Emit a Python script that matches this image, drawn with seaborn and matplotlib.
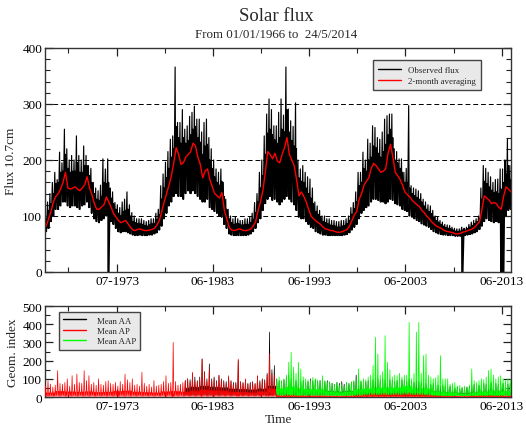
import numpy as np
import pandas as pd
import matplotlib
matplotlib.use("Agg")
import matplotlib.pyplot as plt
import matplotlib.dates as mdates
from matplotlib.lines import Line2D
from matplotlib.ticker import MultipleLocator, FixedLocator
import seaborn as sns

# ---------------------------------------------------------------------------
# Quarterly readings of the 10.7 cm solar flux, 1966 Q1 .. 2014 Q2
# ---------------------------------------------------------------------------
flux_mean = [
    82, 95, 108, 125,   135, 140, 148, 160,   178, 150, 148, 150,   152, 148, 145, 150,
    156, 170, 150, 138,   122, 112, 112, 116,   120, 134, 125, 115,   104, 98, 92, 88,
    90, 92, 86, 80,   75, 74, 76, 77,   75, 74, 74, 75,   76, 78, 84, 92,
    108, 125, 140, 155,   172, 195, 222, 210,   192, 195, 205, 210,   215, 230, 225, 205,
    192, 168, 180, 184,   165, 152, 140, 136,   132, 142, 110, 95,   80, 75, 74, 75,
    77, 76, 74, 74,   75, 77, 82, 90,   110, 125, 145, 178,   215, 210, 202, 212,
    198, 195, 210, 222,   240, 210, 200, 190,   165, 136, 143, 135,   125, 112, 100, 95,
    91, 88, 85, 80,   77, 76, 74, 74,   72, 71, 71, 72,   74, 76, 82, 92,
    102, 108, 130, 140,   155, 162, 168, 185,   194, 190, 184, 178,   180, 184, 212, 228,
    205, 178, 172, 165,   155, 143, 138, 134,   128, 124, 120, 117,   110, 106, 100, 96,
    90, 86, 82, 80,   78, 75, 73, 72,   71, 70, 68, 68,   69, 71, 72, 74,
    75, 77, 80, 85,   90, 112, 136, 132,   128, 122, 124, 122,   115, 112, 135, 152,
    148, 143,
]
# daily extremes and the top of the dense part of the daily band, per quarter
flux_high = [
    105, 125, 140, 160,   178, 165, 214, 195,   255, 220, 200, 208,   200, 243, 208, 200,
    225, 208, 190, 185,   160, 150, 145, 155,   202, 184, 202, 150,   143, 124, 120, 115,
    125, 130, 143, 120,   106, 100, 95, 95,   95, 92, 90, 92,   95, 95, 105, 112,
    154, 175, 196, 215,   237, 243, 366, 267,   267, 290, 255, 261,   278, 285, 296, 273,
    273, 250, 267, 273,   240, 220, 200, 184,   178, 184, 160, 130,   112, 100, 95, 98,
    95, 92, 92, 95,   95, 98, 105, 124,   140, 178, 200, 243,   282, 309, 290, 261,
    261, 285, 309, 280,   366, 291, 270, 260,   302, 200, 184, 190,   178, 170, 166, 150,
    125, 118, 110, 100,   100, 95, 95, 92,   92, 90, 90, 92,   92, 95, 100, 115,
    124, 143, 178, 178,   214, 200, 237, 230,   261, 258, 240, 237,   250, 273, 279, 282,
    282, 220, 215, 202,   202, 178, 185, 297,   154, 150, 148, 145,   140, 130, 125, 120,
    118, 110, 100, 98,   92, 89, 85, 84,   83, 80, 78, 77,   77, 80, 78, 80,
    85, 89, 92, 95,   100, 150, 190, 185,   178, 170, 160, 165,   166, 184, 184, 200,
    237, 190,
]
flux_band = [
    95, 110, 122, 140,   158, 160, 178, 180,   210, 185, 178, 180,   180, 195, 178, 178,
    190, 190, 172, 160,   140, 130, 128, 135,   160, 158, 160, 132,   122, 112, 105, 100,
    108, 110, 112, 100,   90, 88, 86, 86,   85, 83, 82, 84,   86, 86, 94, 102,
    130, 150, 168, 185,   205, 220, 260, 240,   230, 240, 230, 235,   245, 255, 260, 240,
    232, 210, 225, 228,   200, 185, 170, 160,   155, 162, 135, 112,   95, 88, 85, 86,
    86, 84, 84, 85,   85, 88, 94, 106,   125, 150, 172, 210,   248, 255, 245, 236,
    230, 240, 255, 250,   290, 250, 235, 225,   220, 168, 162, 160,   150, 140, 132, 122,
    108, 103, 98, 90,   88, 86, 84, 83,   82, 80, 80, 82,   83, 86, 92, 103,
    113, 125, 154, 160,   185, 180, 200, 205,   225, 222, 212, 205,   215, 228, 245, 255,
    240, 200, 195, 185,   178, 160, 160, 150,   140, 136, 133, 130,   125, 118, 112, 108,
    104, 98, 92, 89,   85, 82, 79, 78,   77, 75, 73, 72,   73, 75, 75, 77,
    80, 83, 86, 90,   95, 130, 162, 158,   152, 146, 142, 143,   140, 148, 160, 175,
    190, 165,
]
flux_low = [
    72, 78, 90, 100,   112, 112, 118, 125,   125, 118, 115, 118,   118, 115, 112, 118,
    120, 125, 115, 105,   95, 90, 88, 92,   95, 100, 0, 90,   85, 78, 72, 70,
    72, 72, 70, 68,   66, 65, 65, 66,   65, 65, 65, 66,   66, 68, 70, 75,
    82, 95, 105, 118,   125, 135, 140, 135,   135, 130, 140, 145,   140, 145, 140, 135,
    130, 125, 125, 130,   115, 112, 108, 105,   100, 98, 85, 78,   68, 66, 65, 65,
    65, 65, 65, 65,   66, 68, 72, 78,   88, 95, 110, 122,   130, 135, 128, 130,
    125, 120, 125, 130,   135, 130, 125, 120,   110, 98, 95, 95,   90, 85, 80, 78,
    72, 70, 68, 66,   66, 65, 65, 65,   65, 65, 65, 65,   66, 67, 70, 75,
    80, 85, 95, 105,   110, 115, 118, 125,   130, 130, 128, 125,   125, 122, 125, 130,
    128, 122, 120, 118,   112, 110, 108, 100,   98, 95, 92, 90,   86, 84, 82, 80,
    76, 72, 70, 68,   67, 66, 66, 65,   65, 65, 64, 64,   64, 0, 65, 66,
    67, 68, 70, 72,   76, 82, 90, 95,   92, 90, 88, 90,   88, 0, 0, 100,
    110, 112,
]

# ---------------------------------------------------------------------------
# Geomagnetic indices: quarterly peaks, yearly typical and quiet levels
# ---------------------------------------------------------------------------
ap_peak = [   # 1966 Q1 .. 2014 Q2
    60, 90, 71, 55,   65, 145, 75, 70,   80, 100, 60, 117,   70, 126, 80, 75,
    145, 90, 117, 70,   80, 65, 100, 70,   65, 85, 90, 75,   70, 80, 60, 85,
    70, 126, 95, 80,   100, 65, 70, 60,   136, 75, 60, 70,   55, 90, 60, 65,
    70, 85, 117, 75,   80, 300, 85, 65,   70, 80, 90, 100,   85, 136, 90, 80,
    95, 209, 130, 85,   150, 90, 100, 80,   117, 95, 80, 75,   117, 85, 70, 75,
    209, 80, 75, 100,   70, 75, 80, 70,   117, 80, 95, 85,   120, 238, 130, 120,
    12, 10, 8, 10,   14, 12, 10, 12,   10, 8, 8, 10,   8, 10, 8, 8,
    8, 8, 10, 8,   8, 6, 8, 6,   6, 6, 5, 6,   6, 8, 6, 8,
    10, 12, 14, 10,   14, 16, 18, 20,   18, 22, 20, 18,   20, 22, 18, 20,
    18, 20, 22, 18,   20, 22, 18, 25,   18, 20, 22, 20,   18, 20, 16, 14,
    12, 10, 10, 8,   8, 6, 6, 6,   6, 5, 6, 5,   5, 5, 5, 6,
    6, 8, 8, 6,   8, 8, 10, 8,   10, 10, 8, 8,   8, 10, 8, 8,
    8, 8,
]
ap_base = [   # 1966 .. 2014
    24, 32, 30, 28, 30, 26, 28, 32, 34, 28, 26, 24, 30, 32, 28, 34, 40, 36, 34, 28,
    26, 24, 30, 45,
    6, 6, 5, 5, 5, 4, 4, 4, 6, 8, 10, 10, 10, 12, 10, 8, 6, 4, 4, 3, 4, 4, 5, 4, 4,
]
ap_low = [3] * 24 + [0] * 25

aa_peak = [   # 1980 Q3 .. 2014 Q2
    90, 100,
    95, 130, 110, 90,   110, 209, 140, 100,   182, 100, 110, 90,   120, 100, 90, 85,
    110, 90, 80, 80,   200, 85, 80, 95,   75, 80, 85, 75,   115, 90, 100, 95,
    130, 357, 150, 173,   100, 90, 85, 95,   110, 120, 100, 105,   90, 95, 85, 90,
    80, 85, 100, 90,   95, 85, 90, 80,   85, 90, 80, 75,   70, 80, 75, 85,
    70, 80, 75, 80,   85, 120, 90, 85,   80, 85, 90, 85,   95, 110, 100, 90,
    100, 95, 90, 95,   90, 85, 90, 85,   95, 90, 85, 100,   85, 80, 90, 85,
    80, 85, 75, 80,   70, 75, 70, 65,   60, 65, 60, 55,   60, 55, 50, 55,
    45, 50, 50, 55,   60, 65, 70, 60,   65, 70, 75, 70,   75, 80, 70, 75,
    70, 80, 75, 70,   70, 75,
]
aa_base = [   # 1980 .. 2014
    50, 55, 60, 55, 52, 45, 42, 40, 45, 60,
    40, 45, 40, 38, 38, 32, 28, 30, 38, 40, 45, 45, 45, 50, 40, 40, 30, 25, 22, 18,
    22, 26, 30, 28, 28,
]
aa_low = [10] * 35

aap_peak = [  # 1990 Q1 .. 2014 Q2
    95, 110, 90, 100,   120, 191, 245, 163,   130, 191, 154, 110,   100, 95, 90, 108,
    100, 95, 90, 117,   90, 80, 85, 75,   70, 81, 65, 70,   60, 81, 70, 85,
    90, 100, 154, 90,   100, 95, 110, 120,   173, 328, 236, 120,   140, 337, 191, 150,
    110, 120, 117, 130,   110, 120, 120, 410,   100, 130, 357, 410,   130, 227, 236, 120,
    110, 100, 105, 120,   227, 100, 100, 100,   70, 75, 80, 60,   64, 55, 60, 50,
    65, 154, 90, 80,   90, 100, 95, 110,   145, 154, 120, 100,   110, 117, 100, 90,
    100, 95,
]
aap_base = [  # 1990 .. 2014
    45, 55, 45, 40, 40, 30, 25, 28, 40, 45, 50, 50, 50, 60, 45, 45, 30, 25, 22, 15,
    22, 28, 32, 30, 30,
]
aap_low = [6] * 25

# Axis annotation
flux_ticks = [0, 100, 200, 300, 400]
geo_ticks = [0, 100, 200, 300, 400, 500]
date_major = ["1973-07-01", "1983-06-01", "1993-06-01", "2003-06-01", "2013-06-01"]
date_minor = ["1968-06-01", "1978-06-01", "1988-06-01", "1998-06-01", "2008-06-01"]
t_start, t_end = "1966-01-01", "2014-05-24"

GREEN = "#00ff00"
RED = "#ff0000"


def quarter_starts(first, count):
    return pd.date_range(first, periods=count, freq="QS")


def per_quarter(yearly, starts, first_year):
    return np.array([yearly[d.year - first_year] for d in starts], float)


def interleave(starts, columns, days):
    """Place several readings per quarter, in order, at the given day offsets."""
    k = len(columns)
    t = np.empty(k * len(starts), dtype="datetime64[ns]")
    v = np.empty(k * len(starts))
    for j, (col, d) in enumerate(zip(columns, days)):
        t[j::k] = (starts + pd.Timedelta(days=d)).values
        v[j::k] = col
    return pd.DataFrame({"time": t, "value": v})


def geo_series(first, peaks, base, low, first_year):
    starts = quarter_starts(first, len(peaks))
    b = per_quarter(base, starts, first_year)
    lo = per_quarter(low, starts, first_year)
    return interleave(starts, [lo, np.asarray(peaks, float), lo, b], [0, 23, 45, 68])


sns.set_theme(style="ticks")
plt.rcParams["font.family"] = ["Liberation Serif", "DejaVu Serif"]
plt.rcParams["axes.linewidth"] = 1.0

fig = plt.figure(figsize=(5.26, 4.27), dpi=100)
ax1 = fig.add_axes([0.0856, 0.3607, 0.886, 0.5246])
ax2 = fig.add_axes([0.0856, 0.0679, 0.886, 0.2131])

# --- Solar flux panel -------------------------------------------------------
qs = quarter_starts("1966-01-01", len(flux_mean))
obs = interleave(qs, [np.asarray(flux_high, float), np.asarray(flux_low, float),
                      np.asarray(flux_band, float), np.asarray(flux_low, float)],
                 [5, 25, 40, 55])
avg = pd.DataFrame({"time": qs + pd.Timedelta(days=45), "value": flux_mean})

sns.lineplot(data=obs, x="time", y="value", ax=ax1, color="black", linewidth=0.85,
             estimator=None, sort=False, legend=False)
sns.lineplot(data=avg, x="time", y="value", ax=ax1, color=RED, linewidth=1.0,
             estimator=None, sort=False, legend=False)

ax1.set_ylim(0, 400)
ax1.yaxis.set_major_locator(FixedLocator(flux_ticks))
ax1.yaxis.set_minor_locator(MultipleLocator(20))
ax1.grid(axis="y", which="major", color="black", linestyle=(0, (5, 3)), linewidth=0.7)
ax1.set_ylabel("Flux 10.7cm", fontsize=9.5, labelpad=4)
ax1.set_xlabel("")

ax1.legend(handles=[Line2D([], [], color="black", lw=1.0),
                    Line2D([], [], color=RED, lw=1.0)],
           labels=["Observed flux", "2-month averaging"],
           loc="upper left", bbox_to_anchor=(0.704, 0.946), borderaxespad=0,
           fontsize=6.4, frameon=True, fancybox=False, framealpha=1,
           facecolor="#e9e9e9", edgecolor="#444444", handlelength=2.5,
           handletextpad=0.8, borderpad=0.6, labelspacing=0.35)

# --- Geomagnetic panel ------------------------------------------------------
aa = geo_series("1980-07-01", aa_peak, aa_base, aa_low, 1980)
aap = geo_series("1990-01-01", aap_peak, aap_base, aap_low, 1990)
ap = geo_series("1966-01-01", ap_peak, ap_base, ap_low, 1966)

sns.lineplot(data=aa, x="time", y="value", ax=ax2, color="black", linewidth=0.5,
             estimator=None, sort=False, legend=False, zorder=2)
sns.lineplot(data=aap, x="time", y="value", ax=ax2, color=GREEN, linewidth=0.55,
             estimator=None, sort=False, legend=False, zorder=3)
sns.lineplot(data=ap, x="time", y="value", ax=ax2, color=RED, linewidth=0.5,
             estimator=None, sort=False, legend=False, zorder=4)

ax2.set_ylim(0, 500)
ax2.yaxis.set_major_locator(FixedLocator(geo_ticks))
ax2.yaxis.set_minor_locator(MultipleLocator(50))
ax2.set_ylabel("Geom. index", fontsize=9.5, labelpad=2)
ax2.set_xlabel("Time", fontsize=9.5, labelpad=1)

ax2.legend(handles=[Line2D([], [], color="black", lw=1.0),
                    Line2D([], [], color=RED, lw=1.0),
                    Line2D([], [], color=GREEN, lw=1.0)],
           labels=["Mean AA", "Mean AP", "Mean AAP"],
           loc="upper left", bbox_to_anchor=(0.030, 0.934), borderaxespad=0,
           fontsize=6.3, frameon=True, fancybox=False, framealpha=1,
           facecolor="#e9e9e9", edgecolor="#444444", handlelength=2.6,
           handletextpad=1.2, borderpad=0.5, labelspacing=0.25)

# --- Shared time axis styling ------------------------------------------------
for ax in (ax1, ax2):
    ax.set_xlim(pd.Timestamp(t_start), pd.Timestamp(t_end))
    ax.xaxis.set_major_locator(FixedLocator(mdates.date2num(pd.to_datetime(date_major))))
    ax.xaxis.set_minor_locator(FixedLocator(mdates.date2num(pd.to_datetime(date_minor))))
    ax.xaxis.set_major_formatter(mdates.DateFormatter("%m-%Y"))
    ax.tick_params(which="both", direction="in", top=True, right=True,
                   colors="#222222", labelcolor="black", labelsize=9.5, pad=2)
    ax.tick_params(which="major", length=6, width=0.9)
    ax.tick_params(which="minor", length=3.5, width=0.8)
    for s in ax.spines.values():
        s.set_color("#333333")
        s.set_linewidth(1.0)

fig.text(0.525, 0.962, "Solar flux", ha="center", va="center", fontsize=13.5)
fig.text(0.525, 0.918, "From 01/01/1966 to  24/5/2014", ha="center", va="center",
         fontsize=9.3)

fig.savefig("out.png", dpi=100)
